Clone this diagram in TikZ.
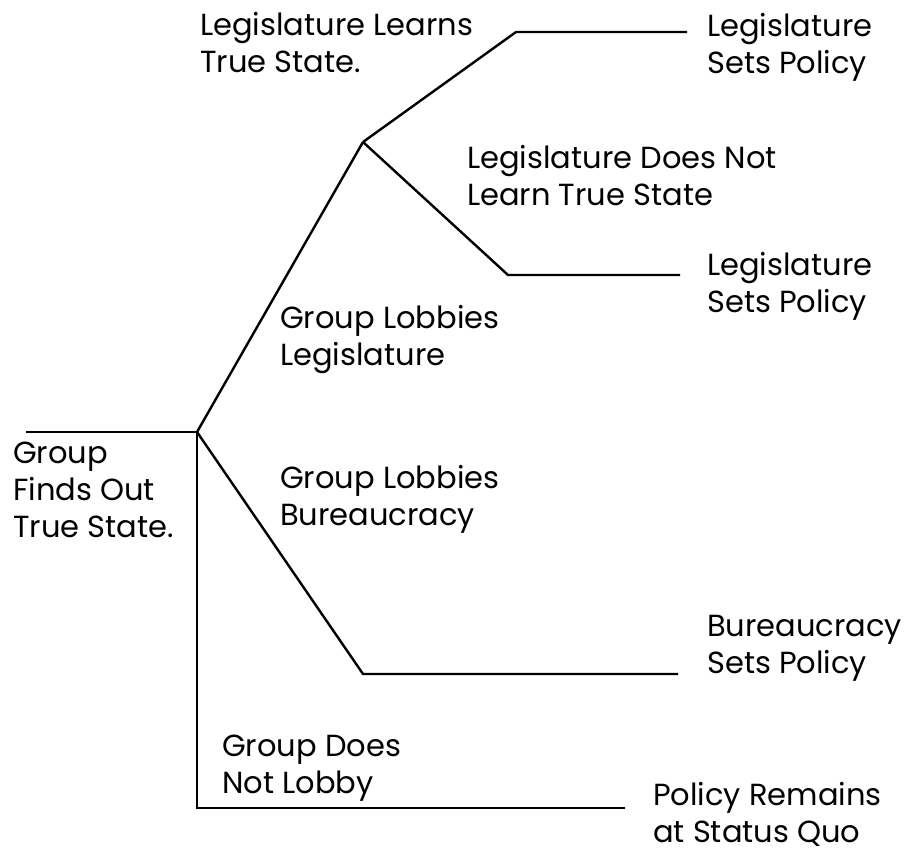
\documentclass[tikz,border=0pt]{standalone}
\usepackage{fontspec}
\setmainfont{Poppins}
\begin{document}
\begin{tikzpicture}[x=1pt,y=-1pt,
  branch/.style={line width=2.4pt,line join=miter,line cap=butt},
  lbl/.style={anchor=base west,inner sep=0pt,align=left,font=\fontsize{30.5}{37}\selectfont}]
\useasboundingbox (0,0) rectangle (909,852);
% tree points
\coordinate (start) at (26,432);
\coordinate (root) at (197,432);
\coordinate (leg) at (363,142);
\coordinate (learnC) at (516,32);
\coordinate (learnE) at (687,32);
\coordinate (notC) at (508,275);
\coordinate (notE) at (680,275);
\coordinate (burC) at (363,674);
\coordinate (burE) at (678,674);
\coordinate (noC) at (197,808);
\coordinate (noE) at (625,808);
% connectors
\draw[branch] (start) -- (root);
\draw[branch] (root) -- (leg);
\draw[branch] (leg) -- (learnC) -- (learnE);
\draw[branch] (leg) -- (notC) -- (notE);
\draw[branch] (root) -- (burC) -- (burE);
\draw[branch] (root) -- (noC) -- (noE);
% labels (anchored at the baseline of the last line)
\node[lbl] (tLearns) at (200,72) {Legislature Learns\\True State.};
\node[lbl] (tSets1) at (707,73) {Legislature\\Sets Policy};
\node[lbl] (tNot) at (467,205) {Legislature Does Not\\Learn True State};
\node[lbl] (tSets2) at (707,312) {Legislature\\Sets Policy};
\node[lbl] (tLobLeg) at (280,365) {Group Lobbies\\Legislature};
\node[lbl] (tRoot) at (13,537) {Group\\Finds Out\\True State.};
\node[lbl] (tLobBur) at (280,525) {Group Lobbies\\Bureaucracy};
\node[lbl] (tBurSets) at (707,673) {Bureaucracy\\Sets Policy};
\node[lbl] (tNoLobby) at (222,793) {Group Does\\Not Lobby};
\node[lbl] (tQuo) at (653,842) {Policy Remains\\at Status Quo};
\end{tikzpicture}
\end{document}
